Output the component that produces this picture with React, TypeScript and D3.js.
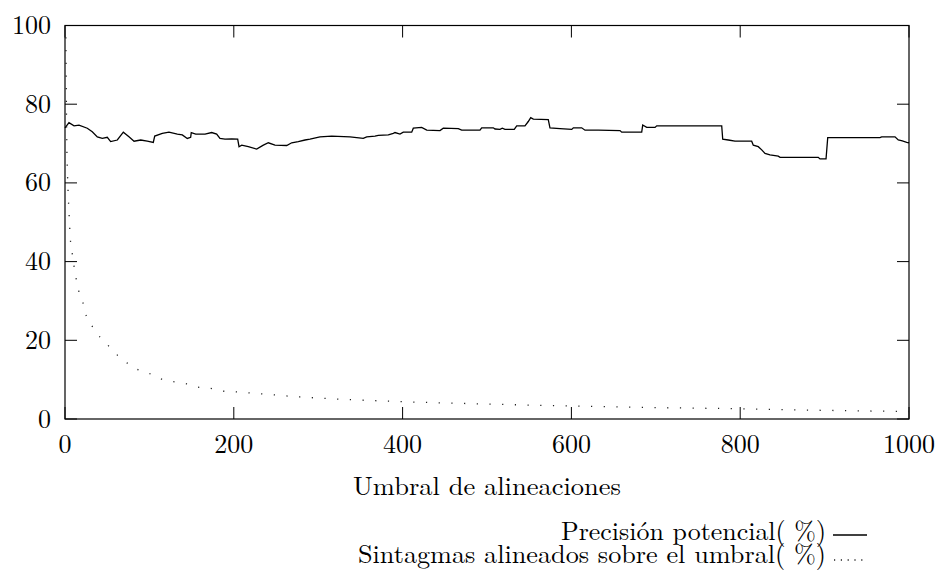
import React from 'react';
import * as d3 from 'd3';

const precisionX = [0, 4.7, 10.7, 16.6, 26.4, 32.3, 38.3, 44.2, 50.1, 54.1, 62.0, 69.1, 75.8, 81.8, 89.7, 97.5, 104.6, 106.3, 115.3, 123.2, 133.1, 139.0, 144.9, 148.9, 149.6, 154.9, 165.9, 173.8, 179.7, 183.6, 189.6, 197.5, 204.6, 206.2, 209.4, 217.2, 227.1, 235.0, 240.9, 248.8, 262.7, 268.6, 276.4, 284.4, 290.3, 302.1, 316.0, 337.7, 353.4, 357.5, 367.3, 371.2, 383.1, 389.0, 391.0, 396.9, 400.8, 410.8, 412.7, 422.6, 428.6, 444.3, 448.2, 466.0, 470.0, 491.7, 493.7, 507.5, 509.5, 515.4, 518.1, 521.3, 532.3, 535.2, 545.0, 548.9, 551.8, 554.9, 572.6, 574.6, 586.5, 600.4, 602.3, 612.2, 616.1, 631.9, 657.6, 659.6, 683.3, 684.5, 689.2, 699.1, 701.1, 778.1, 779.3, 785.9, 793.8, 813.6, 815.5, 821.4, 825.5, 829.4, 835.3, 845.1, 847.2, 892.5, 894.5, 901.7, 903.7, 965.6, 967.6, 983.4, 987.3, 992.1, 997.3, 1000];
const precisionY = [74.0, 75.3, 74.5, 74.7, 73.9, 73.0, 71.7, 71.3, 71.6, 70.5, 70.9, 72.9, 71.7, 70.6, 70.9, 70.6, 70.3, 71.9, 72.6, 72.9, 72.4, 72.2, 71.3, 71.6, 72.8, 72.4, 72.4, 72.8, 72.4, 71.3, 71.1, 71.2, 71.1, 69.2, 69.6, 69.2, 68.6, 69.6, 70.2, 69.6, 69.5, 70.2, 70.5, 70.9, 71.1, 71.7, 71.9, 71.7, 71.3, 71.7, 71.9, 72.1, 72.2, 72.6, 72.8, 72.4, 72.9, 72.9, 73.9, 74.1, 73.4, 73.3, 73.9, 73.8, 73.4, 73.4, 74.0, 74.0, 73.7, 73.6, 73.9, 73.6, 73.6, 74.5, 74.5, 75.6, 76.6, 76.2, 76.1, 74.0, 73.8, 73.6, 74.0, 74.0, 73.4, 73.4, 73.3, 72.9, 72.9, 74.7, 74.1, 74.1, 74.5, 74.5, 71.1, 70.9, 70.6, 70.6, 69.6, 69.2, 68.4, 67.5, 67.1, 66.8, 66.5, 66.5, 66.1, 66.1, 71.5, 71.5, 71.7, 71.7, 70.9, 70.7, 70.3, 70.2];

const coverageX = [1, 1.5, 2, 3, 4, 4.7, 6.3, 8.3, 10.3, 13.0, 16.2, 21.3, 25.2, 32.8, 41.5, 52.5, 62.8, 74.5, 86.7, 100.7, 113.7, 127.9, 143.0, 157.6, 172.6, 186.8, 201.8, 232.6, 278.4, 320, 400, 500, 600, 700, 800, 900, 1000];
const coverageY = [97, 84, 72, 62, 56, 52.7, 45.9, 42.5, 39.4, 35.9, 32.6, 29.5, 26.2, 23.4, 20.8, 18.4, 16.1, 14.1, 12.5, 11.5, 10.2, 9.5, 9.0, 8.1, 7.8, 7.1, 6.9, 6.4, 5.6, 5.1, 4.4, 3.8, 3.3, 2.9, 2.6, 2.2, 1.9];

const xTicks = [0, 200, 400, 600, 800, 1000];
const yTicks = [0, 20, 40, 60, 80, 100];
const xTitle = 'Umbral de alineaciones';
const seriesNames = ['Precisión potencial( %)', 'Sintagmas alineados sobre el umbral( %)'];

const W = 936;
const H = 574;
const L = 65, R = 909, T = 25.5, B = 419;
const FONT = "'Latin Modern Roman', 'CMU Serif', 'Liberation Serif', serif";
const FS = 26;

export default function App() {
  const x = d3.scaleLinear().domain([0, 1000]).range([L, R]);
  const y = d3.scaleLinear().domain([0, 100]).range([B, T]);
  const precision = precisionX.map((v, i) => [v, precisionY[i]] as [number, number]);
  const coverage = coverageX.map((v, i) => [v, coverageY[i]] as [number, number]);
  const lineP = d3.line<[number, number]>().x(d => x(d[0])).y(d => y(d[1]));
  const lineC = d3.line<[number, number]>().x(d => x(d[0])).y(d => y(d[1])).curve(d3.curveMonotoneX);
  const tick = 12;
  return (
    <svg width={W} height={H} style={{ position: 'absolute', left: 0, top: 0, background: '#fff' }} fontFamily={FONT}>
      <rect x={0} y={0} width={W} height={H} fill="#fff" />
      {yTicks.map(t => (
        <g key={'y' + t}>
          <line x1={L} x2={L + tick} y1={y(t)} y2={y(t)} stroke="#000" strokeWidth={1} />
          <line x1={R} x2={R - tick} y1={y(t)} y2={y(t)} stroke="#000" strokeWidth={1} />
          <text x={51} y={y(t) + 8.5} textAnchor="end" fontSize={FS} fill="#000">{t}</text>
        </g>
      ))}
      {xTicks.map(t => (
        <g key={'x' + t}>
          <line x1={x(t)} x2={x(t)} y1={B} y2={B - tick} stroke="#000" strokeWidth={1} />
          <line x1={x(t)} x2={x(t)} y1={T} y2={T + tick} stroke="#000" strokeWidth={1} />
          <text x={x(t)} y={453} textAnchor="middle" fontSize={FS} fill="#000">{t}</text>
        </g>
      ))}
      <rect x={L} y={T} width={R - L} height={B - T} fill="none" stroke="#000" strokeWidth={1.2} />
      <path d={lineP(precision) || ''} fill="none" stroke="#000" strokeWidth={1.3} />
      <path d={lineC(coverage) || ''} fill="none" stroke="#222" strokeWidth={1.3} strokeDasharray="1.2 11.5" />
      <text x={(L + R) / 2} y={495} textAnchor="middle" fontSize={FS} fill="#000" textLength={268} lengthAdjust="spacingAndGlyphs">{xTitle}</text>
      <text x={826} y={540} textAnchor="end" fontSize={FS} fill="#000" textLength={265} lengthAdjust="spacingAndGlyphs">{seriesNames[0]}</text>
      <line x1={833} x2={867} y1={535} y2={535} stroke="#000" strokeWidth={1.3} />
      <text x={826} y={563} textAnchor="end" fontSize={FS} fill="#000" textLength={468} lengthAdjust="spacingAndGlyphs">{seriesNames[1]}</text>
      <line x1={834} x2={868} y1={560} y2={560} stroke="#222" strokeWidth={1.3} strokeDasharray="1.2 5.6" />
    </svg>
  );
}
